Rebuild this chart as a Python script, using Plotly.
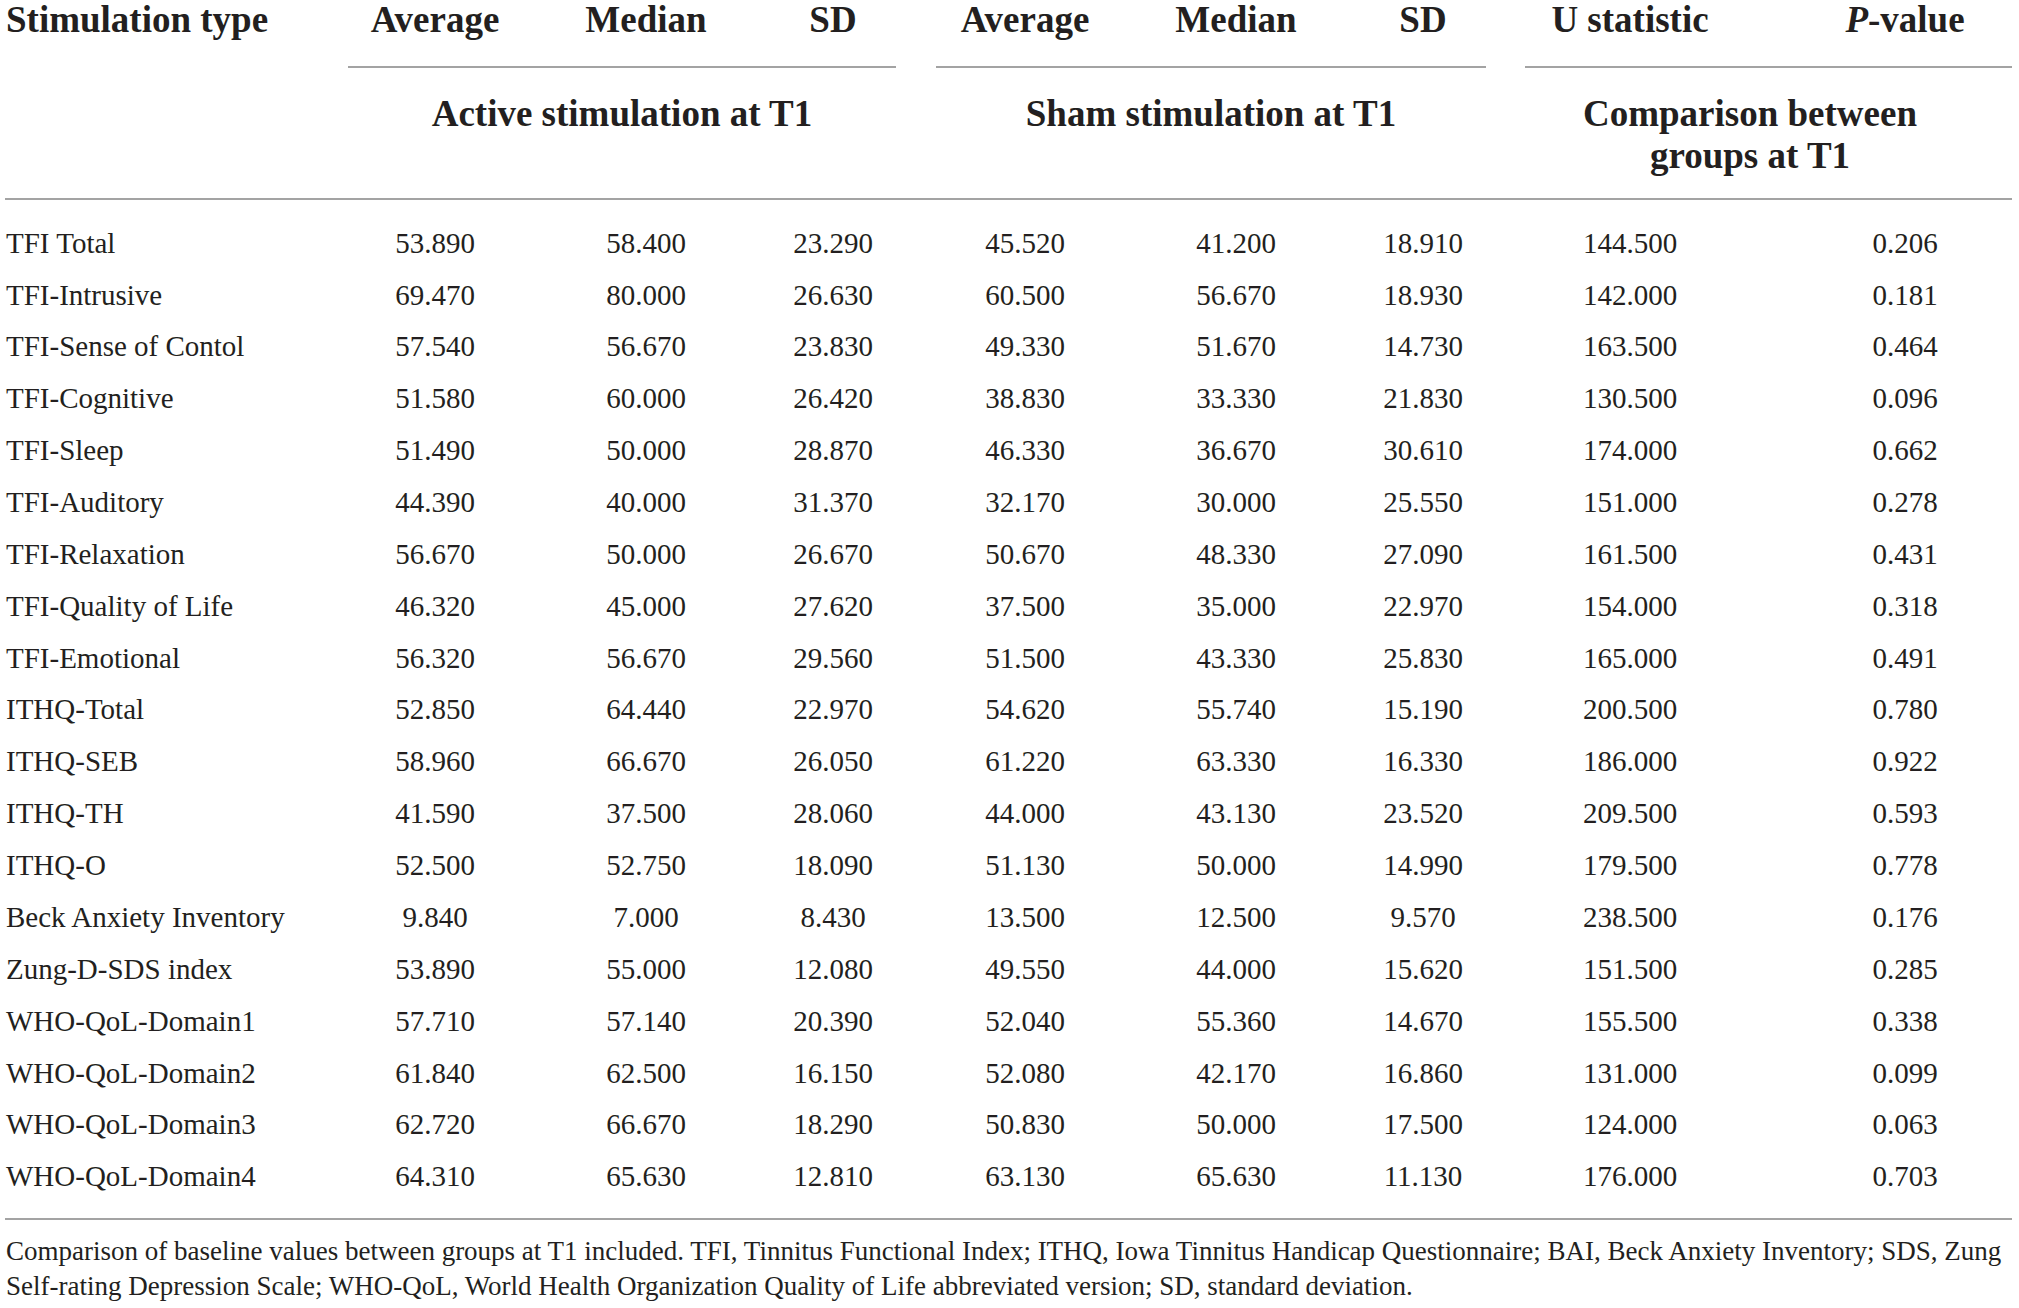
import plotly.graph_objects as go

W, H = 2019, 1308

labels = ["TFI Total", "TFI-Intrusive", "TFI-Sense of Contol", "TFI-Cognitive", "TFI-Sleep",
          "TFI-Auditory", "TFI-Relaxation", "TFI-Quality of Life", "TFI-Emotional", "ITHQ-Total",
          "ITHQ-SEB", "ITHQ-TH", "ITHQ-O", "Beck Anxiety Inventory", "Zung-D-SDS index",
          "WHO-QoL-Domain1", "WHO-QoL-Domain2", "WHO-QoL-Domain3", "WHO-QoL-Domain4"]
active_avg = [53.89, 69.47, 57.54, 51.58, 51.49, 44.39, 56.67, 46.32, 56.32, 52.85, 58.96, 41.59,
              52.5, 9.84, 53.89, 57.71, 61.84, 62.72, 64.31]
active_med = [58.4, 80.0, 56.67, 60.0, 50.0, 40.0, 50.0, 45.0, 56.67, 64.44, 66.67, 37.5, 52.75,
              7.0, 55.0, 57.14, 62.5, 66.67, 65.63]
active_sd = [23.29, 26.63, 23.83, 26.42, 28.87, 31.37, 26.67, 27.62, 29.56, 22.97, 26.05, 28.06,
             18.09, 8.43, 12.08, 20.39, 16.15, 18.29, 12.81]
sham_avg = [45.52, 60.5, 49.33, 38.83, 46.33, 32.17, 50.67, 37.5, 51.5, 54.62, 61.22, 44.0, 51.13,
            13.5, 49.55, 52.04, 52.08, 50.83, 63.13]
sham_med = [41.2, 56.67, 51.67, 33.33, 36.67, 30.0, 48.33, 35.0, 43.33, 55.74, 63.33, 43.13, 50.0,
            12.5, 44.0, 55.36, 42.17, 50.0, 65.63]
sham_sd = [18.91, 18.93, 14.73, 21.83, 30.61, 25.55, 27.09, 22.97, 25.83, 15.19, 16.33, 23.52,
           14.99, 9.57, 15.62, 14.67, 16.86, 17.5, 11.13]
u_stat = [144.5, 142.0, 163.5, 130.5, 174.0, 151.0, 161.5, 154.0, 165.0, 200.5, 186.0, 209.5,
          179.5, 238.5, 151.5, 155.5, 131.0, 124.0, 176.0]
p_val = [0.206, 0.181, 0.464, 0.096, 0.662, 0.278, 0.431, 0.318, 0.491, 0.780, 0.922, 0.593,
         0.778, 0.176, 0.285, 0.338, 0.099, 0.063, 0.703]

col_headers = ["Average", "Median", "SD", "Average", "Median", "SD", "U statistic", "<i>P</i>-value"]
group_titles = ["Active stimulation at T1", "Sham stimulation at T1", "Comparison between", "groups at T1"]
footnote = ["Comparison of baseline values between groups at T1 included. TFI, Tinnitus Functional Index; "
            "ITHQ, Iowa Tinnitus Handicap Questionnaire; BAI, Beck Anxiety Inventory; SDS, Zung",
            "Self-rating Depression Scale; WHO-QoL, World Health Organization Quality of Life "
            "abbreviated version; SD, standard deviation."]

# layout constants (pixels)
FONT = "Liberation Serif"
TXT = "#231f20"
LINE = "#a3a3a3"
HEAD_SIZE, BODY_SIZE, NOTE_SIZE = 37, 29, 27
DY = 2  # text baseline nudge
col_x = [435, 646, 833, 1025, 1236, 1423, 1630, 1905]
row0, row_h = 243.4 + DY, 51.87
row_y = [row0 + i * row_h for i in range(len(labels))]
head_y = 21 + DY

fig = go.Figure()

def txt(x, y, text, pos, size):
    fig.add_trace(go.Scatter(x=x, y=y, mode="text", text=text, textposition=pos, cliponaxis=False,
                             hoverinfo="skip", textfont=dict(family=FONT, size=size, color=TXT)))

# header
txt([6], [head_y], ["<b>Stimulation type</b>"], "middle right", HEAD_SIZE)
txt(col_x, [head_y] * len(col_x), [f"<b>{h}</b>" for h in col_headers], "middle center", HEAD_SIZE)
txt([622, 1211, 1750, 1750], [115 + DY, 115 + DY, 115 + DY, 157 + DY],
    [f"<b>{t}</b>" for t in group_titles], "middle center", HEAD_SIZE)

# body
txt([6] * len(labels), row_y, labels, "middle right", BODY_SIZE)
for cx, series in zip(col_x, [active_avg, active_med, active_sd, sham_avg, sham_med, sham_sd, u_stat, p_val]):
    txt([cx] * len(series), row_y, [f"{v:.3f}" for v in series], "middle center", BODY_SIZE)

# footnote
txt([6, 6], [1251 + DY, 1286 + DY], footnote, "middle right", NOTE_SIZE)

shapes = []
for x0, x1 in [(348, 896), (936, 1486), (1525, 2012)]:
    shapes.append(dict(type="line", xref="x", yref="y", x0=x0, x1=x1, y0=67, y1=67,
                       line=dict(color=LINE, width=2)))
for yy in [199, 1219]:
    shapes.append(dict(type="line", xref="x", yref="y", x0=5, x1=2012, y0=yy, y1=yy,
                       line=dict(color=LINE, width=2)))

fig.update_layout(
    width=W, height=H, margin=dict(l=0, r=0, t=0, b=0),
    paper_bgcolor="white", plot_bgcolor="white", showlegend=False,
    xaxis=dict(range=[0, W], visible=False, fixedrange=True),
    yaxis=dict(range=[H, 0], visible=False, fixedrange=True),
    shapes=shapes,
)
fig.write_html("out.html", config={"displayModeBar": False, "staticPlot": True},
               post_script="document.body.style.margin='0';document.body.style.overflow='hidden';")
